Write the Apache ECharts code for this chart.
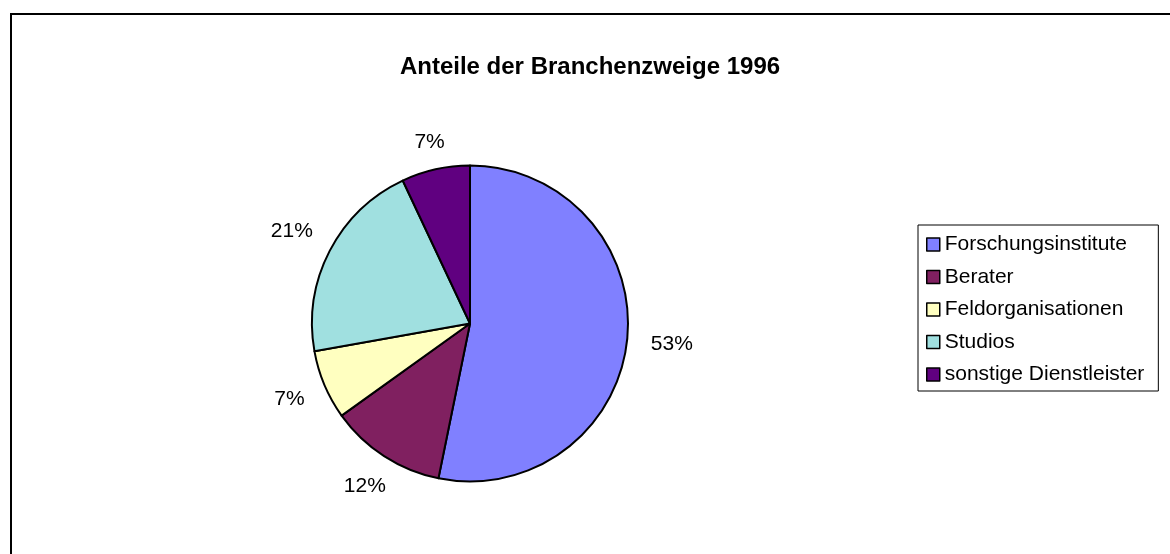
<!DOCTYPE html>
<html>
<head>
<meta charset="utf-8">
<script src="https://cdn.jsdelivr.net/npm/echarts@6/dist/echarts.min.js"></script>
<style>
  html, body { margin: 0; padding: 0; background: #fff; }
  #chart { width: 1170px; height: 554px; }
</style>
</head>
<body>
<div id="chart"></div>
<script>
// Branchenzweige und ihre Anteile
var categories = ["Forschungsinstitute", "Berater", "Feldorganisationen", "Studios", "sonstige Dienstleister"];
var values = [53.2, 11.9, 7.1, 20.8, 7.0];
var colors = ["#8080FF", "#802060", "#FFFFC0", "#A0E0E0", "#600080"];

var CX = 470, CY = 323.5, R = 158;
var total = values.reduce(function (a, b) { return a + b; }, 0);

var pieData = [];
categories.forEach(function (name, i) {
  pieData.push({ name: name, value: values[i], itemStyle: { color: colors[i] } });
});

var chart = echarts.init(document.getElementById("chart"));
var option = {
  backgroundColor: "#fff",
  animation: false,
  title: {
    text: "Anteile der Branchenzweige 1996",
    left: 585,
    top: 50,
    textAlign: "center",
    textStyle: {
      fontFamily: "Liberation Sans, Arial",
      fontSize: 24,
      fontWeight: "bold",
      color: "#000",
    },
  },
  graphic: [
    {
      type: "rect",
      shape: { x: 11, y: 14, width: 1200, height: 600 },
      style: { fill: "none", stroke: "#000", lineWidth: 2 },
      silent: true,
    },
  ],
  legend: {
    orient: "vertical",
    left: 918,
    top: 225,
    padding: [9, 14, 6, 8],
    borderColor: "#000",
    borderWidth: 1,
    itemGap: 11.5,
    itemWidth: 13,
    itemHeight: 13,
    icon: "rect",
    itemStyle: { borderColor: "#000", borderWidth: 1.5 },
    textStyle: {
      fontFamily: "Liberation Sans, Arial",
      fontSize: 21,
      lineHeight: 21,
      color: "#000",
    },
    data: categories,
  },
  series: [
    {
      type: "pie",
      center: [CX, CY],
      radius: R,
      startAngle: 90,
      clockwise: true,
      percentPrecision: 0,
      data: pieData,
      itemStyle: { borderColor: "#000", borderWidth: 2 },
      label: {
        show: true,
        position: "outside",
        formatter: "{d}%",
        fontFamily: "Liberation Sans, Arial",
        fontSize: 21,
        color: "#000",
      },
      labelLine: { show: false },
      // Beschriftung wie in Excel: Mitte des Textes in fester Entfernung vom Rand
      labelLayout: function (params) {
        var i = params.dataIndex;
        var before = 0;
        for (var j = 0; j < i; j++) before += values[j];
        var mid = (before + values[i] / 2) / total * Math.PI * 2;
        var dx = Math.sin(mid), dy = -Math.cos(mid);
        var w = params.labelRect.width;
        var dist = R + 24 + Math.abs(dx) * w / 2;
        return {
          x: CX + dx * dist,
          y: CY + dy * dist,
          align: "center",
          verticalAlign: "middle",
        };
      },
      emphasis: { disabled: true },
    },
  ],
};
chart.setOption(option);
</script>
</body>
</html>
